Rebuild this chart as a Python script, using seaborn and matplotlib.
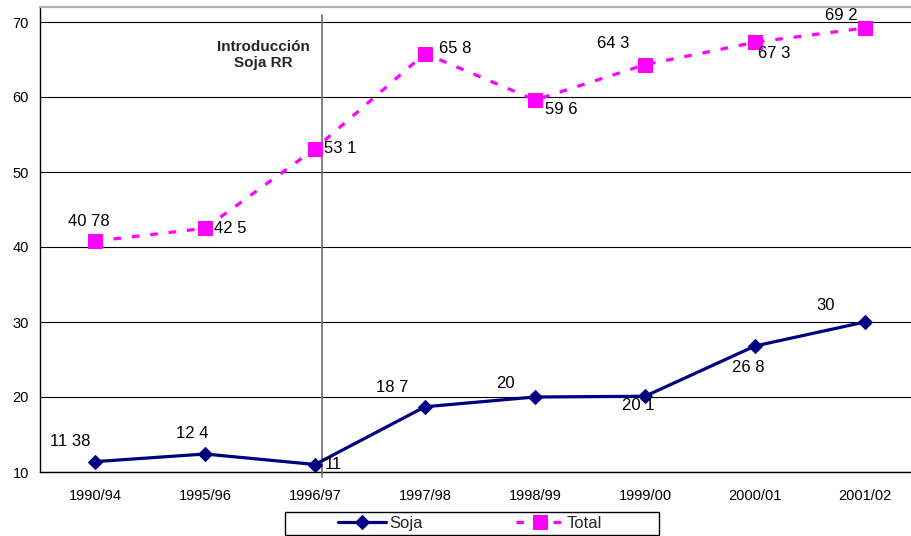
import matplotlib
matplotlib.use("Agg")
import matplotlib.pyplot as plt
from matplotlib.patches import Rectangle
import seaborn as sns
import numpy as np

# Campaign labels and series values
campaigns = ["1990/94", "1995/96", "1996/97", "1997/98", "1998/99", "1999/00", "2000/01", "2001/02"]
soja = [11.38, 12.4, 11, 18.7, 20, 20.1, 26.8, 30]
total = [40.78, 42.5, 53.1, 65.8, 59.6, 64.3, 67.3, 69.2]
y_ticks = [10, 20, 30, 40, 50, 60, 70]

# Label placement (pixel offsets from each point, and alignment)
soja_offsets = [(-25, 20), (-13, 20), (10, 0), (-33, 19), (-30, 14), (-7, -9), (-7, -21), (-39, 17)]
soja_ha = ["center", "center", "left", "center", "center", "center", "center", "center"]
total_offsets = [(-6, 20), (9, 0), (9, 0), (14, 5), (26, -9), (-32, 21), (19, -11), (-24, 12)]
total_ha = ["center", "left", "left", "left", "center", "center", "center", "center"]

sns.set_theme(style="white")
plt.rcParams["font.family"] = ["Liberation Sans", "DejaVu Sans"]

W, H = 911, 536
fig = plt.figure(figsize=(W / 100, H / 100), dpi=100)
ax = fig.add_axes([40 / W, 64 / H, 880 / W, 465 / H])

x = np.arange(len(campaigns))
navy = "#000080"
magenta = "#FF00FF"

sns.lineplot(x=x, y=soja, ax=ax, color=navy, lw=2.3, marker="D", markersize=7.5,
             markeredgecolor=navy, label="Soja", zorder=4)
sns.lineplot(x=x, y=total, ax=ax, color=magenta, lw=2.3, linestyle=(0, (2.4, 3.4)),
             marker="s", markersize=9.5, markeredgecolor=magenta, label="Total", zorder=4)

# Value labels (decimal separator shown as a space)
def fmt(v):
    return f"{v:g}".replace(".", " ")

for xi, v, off, ha in zip(x, soja, soja_offsets, soja_ha):
    ax.annotate(fmt(v), (xi, v), xytext=off, textcoords="offset pixels",
                ha=ha, va="center", fontsize=12, color="black", zorder=5)
for xi, v, off, ha in zip(x, total, total_offsets, total_ha):
    ax.annotate(fmt(v), (xi, v), xytext=off, textcoords="offset pixels",
                ha=ha, va="center", fontsize=12, color="black", zorder=5)

# Marker for the introduction of RR soybean
rr_x = 2.06
ax.plot([rr_x, rr_x], [9.4, 70.9], color="#707070", lw=1.2, clip_on=False, zorder=3)
ax.text(1.53, 65.6, "Introducción\nSoja RR", ha="center", va="center",
        fontsize=11, fontweight="bold", linespacing=1.25)

# Axes
ax.set_xlim(-0.5, 7.5)
ax.set_ylim(10, 72)
ax.set_yticks(y_ticks)
ax.set_xticks(x)
ax.set_xticklabels(campaigns, fontsize=10.5)
ax.set_xticks(np.arange(-0.5, 8, 1), minor=True)
ax.tick_params(axis="x", which="major", length=0, pad=12)
ax.tick_params(axis="x", which="minor", length=5, width=0.8, color="black", direction="out")
ax.tick_params(axis="y", length=6, width=0.8, color="black", direction="out", labelsize=10.5, pad=2)
for t in ax.get_yticklabels() + ax.get_xticklabels():
    t.set_color("black")
ax.yaxis.grid(True, color="black", lw=0.8)
ax.xaxis.grid(False)
ax.set_axisbelow(True)
ax.set_xlabel("")
ax.set_ylabel("")

ax.spines["left"].set_color("black")
ax.spines["left"].set_linewidth(1.0)
ax.spines["bottom"].set_color("black")
ax.spines["bottom"].set_linewidth(1.0)
ax.spines["top"].set_color("#b0b0b0")
ax.spines["top"].set_linewidth(1.6)
ax.spines["right"].set_visible(False)

# Legend: frame drawn as a fixed box, entries centred inside it
box = Rectangle((285 / W, 1 / H), 374 / W, 23 / H, transform=fig.transFigure,
                facecolor="white", edgecolor="black", lw=1.0, zorder=-1)
fig.patches.append(box)
handles, labels = ax.get_legend_handles_labels()
ax.get_legend().remove()
leg = fig.legend(handles, labels, loc="center", bbox_to_anchor=(470 / W, 12.5 / H),
                 ncol=2, frameon=False, fontsize=12, handlelength=2.9, borderpad=0,
                 borderaxespad=0, handletextpad=0.15, columnspacing=5.6)
leg.set_zorder(5)

fig.savefig("out.png", dpi=100)
